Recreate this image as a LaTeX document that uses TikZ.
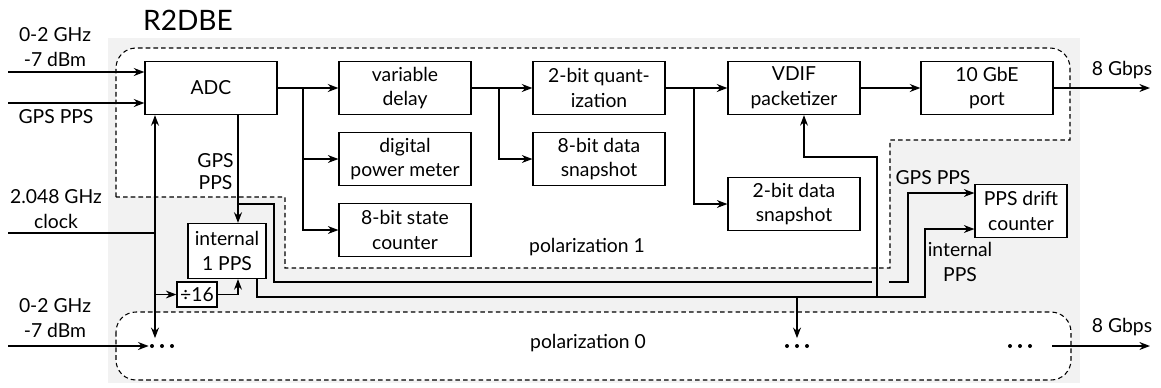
\documentclass[tikz,border=0pt]{standalone}
\usepackage{fontspec}
\setmainfont{Lato}
\usetikzlibrary{arrows.meta}
\tikzset{
	blk/.style={draw, fill=white, line width=0.7pt, minimum width=2.64cm, minimum height=1.06cm, inner sep=1pt, align=center},
	lbl/.style={align=center, inner sep=0pt},
	dots/.style={minimum width=0.52cm, minimum height=0.3cm, inner sep=0pt},
	bus/.style={line width=1.1pt, -{Stealth[length=6pt,width=4.5pt]}},
	sig/.style={line width=0.6pt, -{Stealth[length=6pt,width=4.5pt]}},
	pol/.style={dash pattern=on 2.6pt off 1.8pt, line width=0.6pt, fill=white},
}
\begin{document}
\begin{tikzpicture}[x=0.02cm, y=-0.02cm, font=\fontsize{11}{14}\selectfont]
	\useasboundingbox (0,0) rectangle (1161,387);
	\fill[gray!10] (108,38) rectangle (1080,383);
	\node[font=\fontsize{16}{18}\selectfont] (title) at (188,20) {R2DBE};
	% polarization regions
	\draw[pol] (116,197) -- (116,68) arc[start angle=180, end angle=270, radius=20] -- (1050,48)
		arc[start angle=270, end angle=360, radius=20] -- (1070,140) -- (890,140) -- (890,268) -- (285,268) -- (285,197) -- cycle;
	\draw[pol, rounded corners=0.4cm] (116,312) rectangle (1071,380);
	\node[lbl] (p1) at (587,247) {polarization 1};
	\node[lbl] (p0) at (588,343) {polarization 0};
	% blocks
	\node[blk] (adc) at (211,88) {ADC};
	\node[blk] (vd) at (405,88) {variable\\delay};
	\node[blk] (pm) at (405,159) {digital\\power meter};
	\node[blk] (sc) at (405,230) {8-bit state\\counter};
	\node[blk] (qz) at (599,88) {2-bit quant-\\ization};
	\node[blk] (s8) at (599,159) {8-bit data\\snapshot};
	\node[blk] (vdif) at (794,88) {VDIF\\packetizer};
	\node[blk] (gbe) at (987,88) {10 GbE\\port};
	\node[blk] (s2) at (794,204) {2-bit data\\snapshot};
	\node[blk, minimum width=1.84cm] (drift) at (1021,211) {PPS drift\\counter};
	\node[blk, minimum width=1.56cm, minimum height=1.1cm] (ipps) at (227,251) {internal\\1 PPS};
	\node[blk, minimum width=0.8cm, minimum height=0.5cm] (div) at (197,294.5) {÷16};
	\node[dots] (d0a) at (162,346) {};
	\node[dots] (d0b) at (797,346) {};
	\node[dots] (d0c) at (1020,346) {};
	\foreach \d in {d0a,d0b,d0c}
		\foreach \i in {-10,0,10}
			\fill (\d) ++(\i,0) circle (2);
	% labels
	\node[lbl] (rf1) at (55,47) {0-2 GHz\\-7 dBm};
	\node[lbl] (gpsin) at (56,117) {GPS PPS};
	\node[lbl] (clklbl) at (56,209) {2.048 GHz\\clock};
	\node[lbl] (rf0) at (55,318) {0-2 GHz\\-7 dBm};
	\node[lbl] (out1) at (1122,70) {8 Gbps};
	\node[lbl] (out0) at (1122,327) {8 Gbps};
	\node[lbl, anchor=east, font=\fontsize{11}{12.5}\selectfont] (gpsl) at (234,172) {GPS\\PPS};
	\node[lbl] (gpsr) at (933,178) {GPS PPS};
	\node[lbl] (intl) at (960,262) {internal\\PPS};
	% guide coordinates
	\coordinate (in1) at (8,72);
	\coordinate (in2) at (8,103);
	\coordinate (clk) at (8,233);
	\coordinate (in0) at (8,346);
	\coordinate (o1) at (1150,88);
	\coordinate (o0) at (1150,346);
	\coordinate (o0s) at (1052,346);
	\coordinate (xclk) at (155,0);
	\coordinate (xgps) at (238,0);
	\coordinate (b1) at (303,88);
	\coordinate (b2) at (499,88);
	\coordinate (b3) at (694,88);
	\coordinate (g1) at (238,204);
	\coordinate (g2) at (274,282);
	\coordinate (g3) at (908,193);
	\coordinate (i1) at (257,297);
	\coordinate (i2) at (925,229);
	\coordinate (v1) at (877,297);
	\coordinate (v2) at (804,157);
	\coordinate (t1) at (797,297);
	% inputs
	\draw[bus] (in1) -- (in1 -| adc.west);
	\draw[bus] (in2) -- (in2 -| adc.west);
	\draw[bus] (in0) -- (d0a.west);
	\draw[line width=0.6pt] (clk) -- (clk -| xclk);
	\draw[bus, line width=0.9pt] (clk -| xclk) -- (adc.south -| xclk);
	\draw[bus, line width=0.9pt] (clk -| xclk) -- (d0a.north -| xclk);
	\draw[sig] (div.west -| xclk) -- (div.west);
	\draw[sig] (div.east) -| (ipps.south -| xgps);
	% signal chain
	\draw[bus] (adc) -- (vd);
	\draw[sig] (b1) |- (pm);
	\draw[sig] (b1) |- (sc);
	\draw[bus] (vd) -- (qz);
	\draw[sig] (b2) |- (s8);
	\draw[bus] (qz) -- (vdif);
	\draw[sig] (b3) |- (s2);
	\draw[bus] (vdif) -- (gbe);
	\draw[bus] (gbe) -- (o1);
	\draw[bus] (o0s) -- (o0);
	% pps
	\draw[bus] (adc.south -| xgps) -- (ipps.north -| xgps);
	\draw[sig] (g1) -| (g2) -| (g3) -- (g3 -| drift.west);
	\draw[gray!10, line width=2pt] (872,282) -- (889,282);
	\draw[sig] (ipps.south -| i1) -- (i1) -| (i2) -- (i2 -| drift.west);
	\draw[sig] (v1) |- (v2) -- (vdif.south -| v2);
	\draw[bus, line width=0.9pt] (t1) -- (d0b.north);
\end{tikzpicture}
\end{document}
